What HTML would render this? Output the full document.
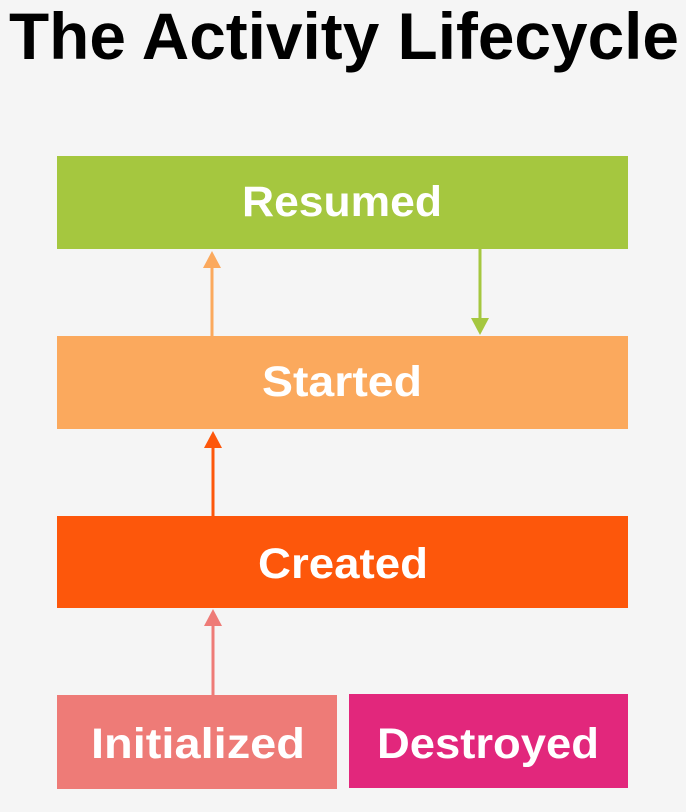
<!DOCTYPE html>
<html><head><meta charset="utf-8"><style>
html,body{margin:0;padding:0;background:#f5f5f5;}
svg{display:block}
text{font-family:"Liberation Sans",sans-serif;font-weight:bold}
</style></head><body>
<svg width="686" height="812" viewBox="0 0 686 812" xmlns="http://www.w3.org/2000/svg">
<rect width="686" height="812" fill="#f5f5f5"/>
<text x="9" y="59" font-size="66" fill="#000" textLength="670" lengthAdjust="spacingAndGlyphs">The Activity Lifecycle</text>
<rect x="57" y="156" width="571" height="93" fill="#a5c73f"/>
<rect x="57" y="336" width="571" height="93" fill="#fba95d"/>
<rect x="57" y="516" width="571" height="92" fill="#fd570b"/>
<rect x="57" y="695" width="280" height="94" fill="#ee7b77"/>
<rect x="349" y="694" width="279" height="94" fill="#e2277c"/>
<g fill="#fff" font-size="43" text-anchor="middle">
<text x="342" y="216" textLength="200" lengthAdjust="spacingAndGlyphs">Resumed</text>
<text x="342" y="396" textLength="160" lengthAdjust="spacingAndGlyphs">Started</text>
<text x="343" y="578" textLength="170" lengthAdjust="spacingAndGlyphs">Created</text>
<text x="198" y="758" textLength="214" lengthAdjust="spacingAndGlyphs">Initialized</text>
<text x="488" y="758" textLength="222" lengthAdjust="spacingAndGlyphs">Destroyed</text>
</g>
<line x1="212" y1="336" x2="212" y2="266" stroke="#fba95d" stroke-width="3"/>
<polygon points="203,268 221,268 212,251" fill="#fba95d"/>
<line x1="480" y1="249" x2="480" y2="320" stroke="#a5c73f" stroke-width="3"/>
<polygon points="471,318 489,318 480,335" fill="#a5c73f"/>
<line x1="213" y1="516" x2="213" y2="446" stroke="#fd570b" stroke-width="3"/>
<polygon points="204,448 222,448 213,431" fill="#fd570b"/>
<line x1="213" y1="695" x2="213" y2="624" stroke="#ee7b77" stroke-width="3"/>
<polygon points="204,626 222,626 213,609" fill="#ee7b77"/>
</svg>
</body></html>
